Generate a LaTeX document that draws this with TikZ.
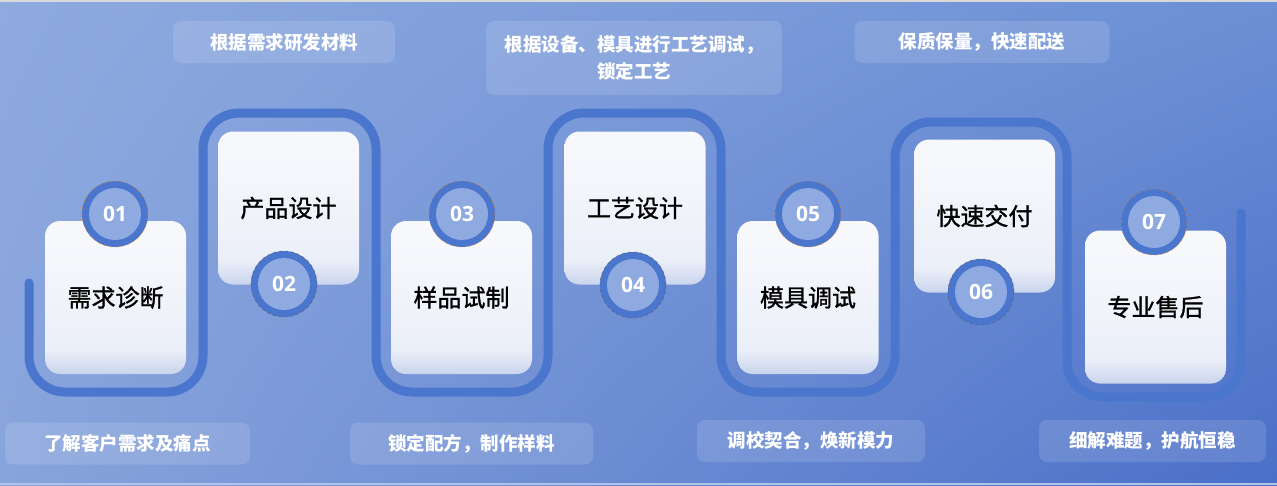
\documentclass[tikz,border=0pt]{standalone}
\usepackage{fontspec}
\usetikzlibrary{positioning,shadings}

\newfontfamily\cjk{Noto Sans CJK SC}
\newfontfamily\cjkcard[FakeBold=1.2]{Noto Sans CJK SC}
\newfontfamily\numfont{Open Sans}

\definecolor{bgUL}{HTML}{8EAADF}
\definecolor{bgUR}{HTML}{6C8FD5}
\definecolor{bgLL}{HTML}{88A4DC}
\definecolor{bgLR}{HTML}{4A6FC8}
\definecolor{waveblue}{HTML}{4A76CD}
\definecolor{ringfill}{HTML}{8FAAE1}
\definecolor{cardtop}{HTML}{F7F8FC}
\definecolor{cardmid}{HTML}{EBEFF8}
\definecolor{cardlow}{HTML}{C9D4ED}

\pgfdeclareverticalshading{cardshade}{100bp}{color(0bp)=(cardlow); color(25bp)=(cardlow); color(33bp)=(cardmid); color(68bp)=(cardtop); color(100bp)=(cardtop)}

\begin{document}
\begin{tikzpicture}[x=1pt,y=-1pt,
  card/.style={rectangle,rounded corners=15pt,shading=cardshade,
    minimum width=141pt,minimum height=153pt,
    font=\cjkcard\fontsize{24}{28}\selectfont,text=black},
  badge/.style={circle,minimum size=66pt,inner sep=0pt,fill=waveblue,
    dashed,line width=0.6pt,draw opacity=0.7,
    path picture={\fill[ringfill] (path picture bounding box.center) circle (26pt);},
    font=\numfont\bfseries\fontsize{21}{25}\selectfont,text=white},
  badgetop/.style={badge,draw=orange!70!brown},
  badgebot/.style={badge,draw=gray!70!black},
  note/.style={rectangle,rounded corners=8pt,fill=white,fill opacity=0.13,
    text opacity=1,text=white,align=center,minimum height=42pt,
    font=\cjk\bfseries\fontsize{18.5}{27}\selectfont},
  wave/.style={draw=waveblue,line width=9pt,rounded corners=36pt,line cap=round}]

\useasboundingbox (0,0) rectangle (1277,485);

% background
\shade[upper left=bgUL,upper right=bgUR,lower left=bgLL,lower right=bgLR]
  (0,0) rectangle (1277,485);
\draw[line width=2pt,color=gray!30!white] (0,1) -- (1277,1);
\draw[line width=2pt,color=bgUL!70!white] (0,484) -- (1277,484);

% winding line
\coordinate (w0) at (29,283);
\coordinate (w1) at (203,392);
\coordinate (w2) at (376,113);
\coordinate (w3) at (548,392);
\coordinate (w4) at (721,113);
\coordinate (w5) at (895,392);
\coordinate (w6) at (1067,122);
\coordinate (w7) at (1241,397);
\coordinate (w8) at (1241,213);

\path[wave] (w0) |- (w1) |- (w2) |- (w3) |- (w4) |- (w5) |- (w6) |- (w7) -- (w8);

% steps
\node[card] (c1) at (115.5,297.5) {需求诊断};
\node[card] (c2) at (288.5,208)   {产品设计};
\node[card] (c3) at (461.5,297.5) {样品试制};
\node[card] (c4) at (635,208)     {工艺设计};
\node[card] (c5) at (808,297.5)   {模具调试};
\node[card] (c6) at (984.5,216)   {快速交付};
\node[card] (c7) at (1155.5,307)  {专业售后};

\node[badgetop] (n1) at (115,214)  {01};
\node[badgebot] (n2) at (284,284)  {02};
\node[badgetop] (n3) at (462,214)  {03};
\node[badgebot] (n4) at (633,285)  {04};
\node[badgetop] (n5) at (808,214)  {05};
\node[badgebot] (n6) at (981,292)  {06};
\node[badgetop] (n7) at (1154,222) {07};

% notes
\node[note,minimum width=222pt] (t2) at (284,42) {根据需求研发材料};
\node[note,minimum width=296pt,minimum height=74pt] (t4) at (634,58) {根据设备、模具进行工艺调试，\\锁定工艺};
\node[note,minimum width=255pt] (t6) at (982,42) {保质保量，快速配送};

\node[note,minimum width=245pt] (b1) at (127.5,443.5) {了解客户需求及痛点};
\node[note,minimum width=243pt] (b3) at (471.5,443.5) {锁定配方，制作样料};
\node[note,minimum width=228pt] (b5) at (811,441)     {调校契合，焕新模力};
\node[note,minimum width=227pt] (b7) at (1152.5,441)  {细解难题，护航恒稳};

\end{tikzpicture}
\end{document}
